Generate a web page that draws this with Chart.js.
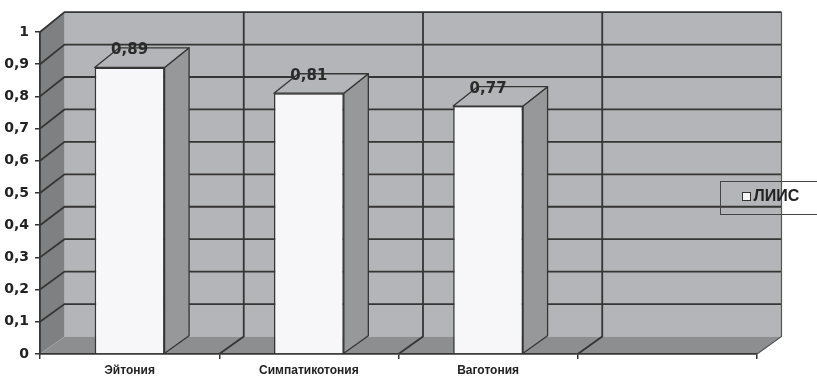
<!DOCTYPE html>
<html>
<head>
<meta charset="utf-8">
<script src="https://cdn.jsdelivr.net/npm/chart.js@4/dist/chart.umd.min.js"></script>
<style>
  html, body { margin: 0; padding: 0; background: #ffffff; overflow: hidden; }
  #wrap { position: relative; width: 817px; height: 377px; overflow: hidden; }
  #legend {
    position: absolute; left: 720px; top: 181px; width: 110px; height: 34px;
    border: 1.5px solid #444; box-sizing: border-box;
    font: bold 16px "Liberation Sans", Arial, sans-serif; color: #222;
  }
  #legend .sq {
    position: absolute; left: 20.5px; top: 10px; width: 7px; height: 7px;
    background: #f7f7f9; border: 1px solid #333;
  }
  #legend .tx { position: absolute; left: 32.5px; top: 5px; line-height: normal; }
</style>
</head>
<body>
<div id="wrap">
  <canvas id="c" width="817" height="377"></canvas>
  <div id="legend"><span class="sq"></span><span class="tx">ЛИИС</span></div>
</div>
<script>
const categories = ['Эйтония', 'Симпатикотония', 'Ваготония', ''];
const seriesName = 'ЛИИС';
const seriesValues = [0.89, 0.81, 0.77, null];
const valueLabels = ['0,89', '0,81', '0,77', ''];
const yTickLabels = ['0', '0,1', '0,2', '0,3', '0,4', '0,5', '0,6', '0,7', '0,8', '0,9', '1'];

const WALL = '#b4b5b8', SIDE = '#7f8082', FLOOR = '#8d8e90', BARSIDE = '#97989a', LINE = '#353535';
const DX = 24.5;
function depthY(v) { return 17.5 + 2.4 * v; }

const threeD = {
  id: 'threeD',
  beforeDraw(chart) {
    const ctx = chart.ctx, ya = chart.scales.y, xa = chart.scales.x, ca = chart.chartArea;
    const f0 = ya.getPixelForValue(0), f1 = ya.getPixelForValue(1);
    const b0 = f0 - depthY(0), b1 = f1 - depthY(1);
    ctx.save();
    ctx.fillStyle = WALL;
    ctx.fillRect(ca.left + DX, b1, ca.right - ca.left, b0 - b1);
    ctx.fillStyle = SIDE;
    ctx.beginPath();
    ctx.moveTo(ca.left, f0); ctx.lineTo(ca.left, f1);
    ctx.lineTo(ca.left + DX, b1); ctx.lineTo(ca.left + DX, b0); ctx.closePath(); ctx.fill();
    ctx.fillStyle = FLOOR;
    ctx.beginPath();
    ctx.moveTo(ca.left, f0); ctx.lineTo(ca.left + DX, b0);
    ctx.lineTo(ca.right + DX, b0); ctx.lineTo(ca.right, f0); ctx.closePath(); ctx.fill();
    ctx.strokeStyle = LINE; ctx.lineWidth = 1.8;
    ya.ticks.forEach(t => {
      if (t.value <= 0) return;
      const fy = ya.getPixelForValue(t.value), by = fy - depthY(t.value);
      ctx.beginPath();
      ctx.moveTo(ca.left, fy); ctx.lineTo(ca.left + DX, by); ctx.lineTo(ca.right + DX, by);
      ctx.stroke();
    });
    for (let i = 1; i <= categories.length; i++) {
      const xb = i < categories.length
        ? (xa.getPixelForValue(i - 1) + xa.getPixelForValue(i)) / 2
        : ca.right;
      ctx.lineWidth = i < categories.length ? 1.8 : 1.2;
      ctx.strokeStyle = i < categories.length ? LINE : '#555';
      ctx.beginPath();
      ctx.moveTo(xb + DX, b1); ctx.lineTo(xb + DX, b0); ctx.lineTo(xb, f0);
      ctx.stroke();
    }
    ctx.restore();
  },
  afterDatasetsDraw(chart) {
    const ctx = chart.ctx;
    const meta = chart.getDatasetMeta(0);
    ctx.save();
    meta.data.forEach((bar, i) => {
      const v = seriesValues[i];
      if (v === null || v === undefined) return;
      const p = bar.getProps(['x', 'y', 'base', 'width'], true);
      const l = p.x - p.width / 2, r = p.x + p.width / 2, t = p.y, b = p.base;
      const dt = depthY(v), db = depthY(0);
      ctx.strokeStyle = LINE; ctx.lineWidth = 1.3; ctx.lineJoin = 'round';
      ctx.fillStyle = BARSIDE;
      ctx.beginPath();
      ctx.moveTo(r, t); ctx.lineTo(r + DX, t - dt); ctx.lineTo(r + DX, b - db); ctx.lineTo(r, b);
      ctx.closePath(); ctx.fill(); ctx.stroke();
      ctx.fillStyle = WALL;
      ctx.beginPath();
      ctx.moveTo(l, t); ctx.lineTo(l + DX, t - dt); ctx.lineTo(r + DX, t - dt); ctx.lineTo(r, t);
      ctx.closePath(); ctx.fill(); ctx.stroke();
      ctx.fillStyle = '#2a2a2a';
      ctx.font = 'bold 15px "DejaVu Sans", sans-serif';
      ctx.textAlign = 'center'; ctx.textBaseline = 'middle';
      ctx.fillText(valueLabels[i], p.x, t - 17);
    });
    ctx.restore();
  }
};

new Chart(document.getElementById('c'), {
  type: 'bar',
  data: {
    labels: categories,
    datasets: [{
      label: seriesName,
      data: seriesValues,
      backgroundColor: '#f7f7f9',
      borderColor: LINE,
      borderWidth: 1.5,
      categoryPercentage: 1.0,
      barPercentage: 0.39
    }]
  },
  options: {
    responsive: false,
    animation: false,
    layout: { padding: { top: 32, right: 60, left: 0, bottom: 0 } },
    plugins: { legend: { display: false }, tooltip: { enabled: false } },
    scales: {
      x: {
        grid: { display: true, drawOnChartArea: false, drawTicks: true, tickLength: 5, color: LINE, lineWidth: 1.5, offset: true },
        border: { display: true, color: LINE, width: 1.8 },
        ticks: { color: '#222', font: { family: '"Liberation Sans", Arial, sans-serif', size: 12, weight: 'bold' }, padding: 4, maxRotation: 0, autoSkip: false },
        afterFit(scale) { scale.height = 23; }
      },
      y: {
        min: 0, max: 1,
        grid: { display: true, drawOnChartArea: false, drawTicks: true, tickLength: 5, color: LINE, lineWidth: 1.5 },
        border: { display: true, color: LINE, width: 1.8 },
        ticks: {
          stepSize: 0.1,
          color: '#222',
          padding: 6,
          font: { family: '"DejaVu Sans", sans-serif', size: 14, weight: 'bold' },
          callback: (v, i) => yTickLabels[i]
        },
        afterFit(scale) { scale.width = 40; }
      }
    }
  },
  plugins: [threeD]
});
</script>
</body>
</html>
